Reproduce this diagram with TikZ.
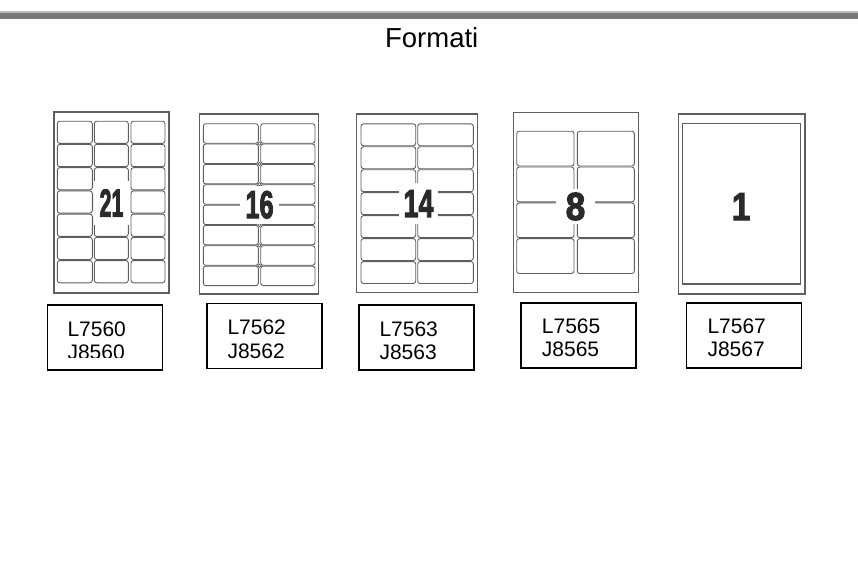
\documentclass[tikz,border=0pt]{standalone}
\usepackage{fontspec}
\setmainfont{Liberation Sans}
\newfontfamily\numfont{Liberation Sans Bold}[FakeBold=3]
\definecolor{bargray}{HTML}{777777}
\definecolor{bartop}{HTML}{BBBBBB}
\definecolor{sheetgray}{HTML}{5E5E5E}
\definecolor{labgray}{HTML}{5E5E5E}
\definecolor{numgray}{HTML}{2A2A2A}
\tikzset{
  sheet/.style={draw=sheetgray, line width=1.2pt},
  lab/.style={draw=labgray, line width=0.9pt, rounded corners=2.5pt},
  dot/.style={draw=labgray, fill=white, line width=0.7pt},
  bignum/.style={fill=white, inner sep=0pt, text=numgray,
    font=\fontsize{39}{39}\selectfont\numfont},
  codebox/.style={draw, line width=1.6pt, minimum width=115pt,
    minimum height=65pt, inner sep=0pt, anchor=north west},
  codetext/.style={align=left, inner sep=0pt, anchor=north west,
    font=\fontsize{21}{23.3}\selectfont}
}
\begin{document}
\begin{tikzpicture}[x=1pt,y=-1pt]
    \useasboundingbox (0,0) rectangle (858,562);

    % top bar and title
    \fill[bartop] (0,11) rectangle (858,13);
    \fill[bargray] (0,13) rectangle (858,19.3);
    \node[font=\fontsize{27.5}{30}\selectfont] (title) at (431.7,37.2) {Formati};

    % sheet 21
    \draw[sheet] (54,112) rectangle (169,293);
    \foreach \xa/\xb in {57.3/92.3, 94.3/128.3, 131/165}
      \foreach \r in {0,...,6}
        \draw[lab] (\xa,{120.7+\r*23.23+0.5}) rectangle (\xb,{120.7+(\r+1)*23.23-0.5});
    \node[bignum, inner xsep=6pt, inner ysep=8pt] (n21) at (111.5,203)
      {\scalebox{0.55}[1]{21}};

    % sheet 16
    \draw[sheet] (199.3,114) rectangle (318.3,294);
    \foreach \xa/\xb in {203.3/258.3, 260.7/315}
      \foreach \r in {0,...,7}
        \draw[lab] (\xa,{123.3+\r*20.34+0.4}) rectangle (\xb,{123.3+(\r+1)*20.34-0.4});
    \foreach \r in {1,2,3,5,6,7}
      \draw[dot] (259.5,{123.3+\r*20.34}) circle (1.6pt);
    \node[bignum, inner xsep=5.5pt, inner ysep=5pt] (n16) at (259.5,204.7)
      {\scalebox{0.65}[1]{16}};

    % sheet 14
    \draw[sheet] (356.7,114) rectangle (477.3,292.7);
    \foreach \xa/\xb in {361/415.7, 417.7/473.3}
      \foreach \r in {0,...,6}
        \draw[lab] (\xa,{123.3+\r*22.96+0.5}) rectangle (\xb,{123.3+(\r+1)*22.96-0.5});
    \node[bignum, inner xsep=5pt, inner ysep=7pt] (n14) at (418.5,203.5)
      {\scalebox{0.69}[1]{14}};

    % sheet 8
    \draw[sheet] (513.3,112.7) rectangle (638.3,292.7);
    \foreach \xa/\xb in {516.7/574, 577.3/634.3}
      \foreach \r in {0,...,3}
        \draw[lab] (\xa,{130.7+\r*35.83+0.5}) rectangle (\xb,{130.7+(\r+1)*35.83-0.5});
    \node[bignum, inner xsep=10pt, inner ysep=4pt] (n8) at (575.5,206.5)
      {\scalebox{0.9}[1]{8}};

    % sheet 1
    \draw[sheet] (678.3,114) rectangle (805,294);
    \draw[sheet] (682.3,123.3) rectangle (800.7,284);
    \node[bignum, fill=none] (n1) at (741,206.7) {\scalebox{0.85}[1]{1}};

    % code boxes
    \node[codebox] (b7560) at (46.7,304.3) {};
    \node[codebox] (b7562) at (206,302.7) {};
    \node[codebox] (b7563) at (358.3,304.3) {};
    \node[codebox] (b7565) at (520,302.3) {};
    \node[codebox] (b7567) at (685.7,302.3) {};

    \begin{scope}
      \clip (40,300) rectangle (170,357.5);
      \node[codetext] (t7560) at (67.3,321.7) {L7560\\J8560};
    \end{scope}
    \node[codetext] (t7562) at (227.3,320) {L7562\\J8562};
    \node[codetext] (t7563) at (379.3,321.7) {L7563\\J8563};
    \node[codetext] (t7565) at (541.7,318.3) {L7565\\J8565};
    \node[codetext] (t7567) at (707.3,318.3) {L7567\\J8567};
\end{tikzpicture}
\end{document}
